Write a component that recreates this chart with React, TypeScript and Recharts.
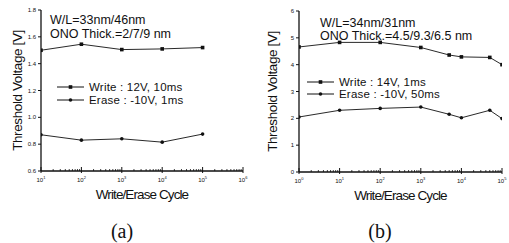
import { LineChart, Line, XAxis, YAxis, Legend } from "recharts";

// (a) W/L=33nm/46nm
const cyclesA = [10, 100, 1000, 10000, 100000];
const writeA = [1.5, 1.545, 1.505, 1.51, 1.52];
const eraseA = [0.87, 0.83, 0.84, 0.815, 0.875];
const yTicksA = [0.6, 0.8, 1.0, 1.2, 1.4, 1.6, 1.8];
const xMajorA = [10, 100, 1000, 10000, 100000, 1000000];

// (b) W/L=34nm/31nm
const cyclesB = [1, 10, 100, 1000, 5000, 10000, 50000, 100000];
const writeB = [4.66, 4.83, 4.83, 4.64, 4.36, 4.29, 4.27, 4.0];
const eraseB = [2.05, 2.3, 2.37, 2.42, 2.15, 2.02, 2.3, 1.99];
const yTicksB = [0, 1, 2, 3, 4, 5, 6];
const xMajorB = [1, 10, 100, 1000, 10000, 100000];

const minorSteps = [2, 3, 4, 5, 6, 7, 8, 9];

const INK = "#111";
const SANS = "'Liberation Sans', Arial, sans-serif";

function withMinor(major: number[]) {
  const out: number[] = [];
  major.forEach((m, i) => {
    out.push(m);
    if (i < major.length - 1) minorSteps.forEach((s) => out.push(m * s));
  });
  return out;
}

const LogTick = (props: any) => {
  const { x, y, payload } = props;
  const v = payload.value;
  const lg = Math.log10(v);
  const exp = Math.round(lg);
  if (Math.abs(lg - exp) > 1e-6) {
    return <line x1={x} x2={x} y1={y} y2={y - 2} stroke={INK} strokeWidth={0.8} />;
  }
  return (
    <g>
      <line x1={x} x2={x} y1={y + 2} y2={y - 4} stroke={INK} strokeWidth={1} />
      <text x={x} y={y + 11} textAnchor="middle" fontSize={6} fill={INK} fontFamily={SANS}>
        10
        <tspan dy={-3} fontSize={4}>
          {exp}
        </tspan>
      </text>
    </g>
  );
};

const makeYTick = (digits: number) => (props: any) => {
  const { x, y, payload } = props;
  return (
    <g>
      <line x1={x} x2={x - 3} y1={y} y2={y} stroke={INK} strokeWidth={1} />
      <text x={x - 5} y={y + 2} textAnchor="end" fontSize={6} fill={INK} fontFamily={SANS}>
        {payload.value.toFixed(digits)}
      </text>
    </g>
  );
};

const SquareDot = (p: any) => (
  <rect key={`s${p.index}`} x={p.cx - 1.8} y={p.cy - 1.8} width={3.6} height={3.6} fill={INK} />
);

const legendContent = (labels: string[], rowH: number) => () => (
  <div style={{ fontFamily: SANS, fontSize: 11.5, color: INK }}>
    {labels.map((lab, i) => (
      <div
        key={lab}
        style={{ display: "flex", alignItems: "center", height: rowH, lineHeight: `${rowH}px` }}
      >
        <svg width={27} height={8} style={{ flex: "none" }}>
          <line x1={0} x2={27} y1={4} y2={4} stroke={INK} strokeWidth={1} />
          {i === 0 ? (
            <rect x={11.7} y={2.2} width={3.6} height={3.6} fill={INK} />
          ) : (
            <circle cx={13.5} cy={4} r={1.8} fill={INK} />
          )}
        </svg>
        <span style={{ marginLeft: 5, whiteSpace: "nowrap", letterSpacing: 0.2 }}>{lab}</span>
      </div>
    ))}
  </div>
);

type PanelProps = {
  left: number;
  width: number;
  yWidth: number;
  margin: { top: number; right: number; bottom: number };
  cycles: number[];
  write: number[];
  erase: number[];
  yTicks: number[];
  xMajor: number[];
  digits: number;
  legendLabels: string[];
  legendPos: { left: number; top: number; rowH: number };
  notes: string[];
  notePos: { left: number; top: number; lineH: number };
  tag: string;
  tagX: number;
};

function Panel(p: PanelProps) {
  const data = p.cycles.map((c, i) => ({ c, write: p.write[i], erase: p.erase[i] }));
  const xDomain = [p.xMajor[0], p.xMajor[p.xMajor.length - 1]];
  const yDomain = [p.yTicks[0], p.yTicks[p.yTicks.length - 1]];
  return (
    <div style={{ position: "absolute", left: p.left, top: 0, width: p.width, height: 243 }}>
      <LineChart
        width={p.width}
        height={243}
        data={data}
        margin={{ top: p.margin.top, right: p.margin.right, bottom: p.margin.bottom, left: 0 }}
      >
        <XAxis
          dataKey="c"
          type="number"
          scale="log"
          domain={xDomain}
          ticks={withMinor(p.xMajor)}
          interval={0}
          allowDataOverflow
          tick={<LogTick />}
          tickLine={false}
          tickSize={0}
          tickMargin={0}
          height={30}
          stroke={INK}
          strokeWidth={1.3}
          label={{
            value: "Write/Erase Cycle",
            position: "insideBottom",
            offset: 2,
            fill: INK,
            fontSize: 13.5,
            fontFamily: SANS,
            letterSpacing: -0.9,
          }}
        />
        <XAxis
          xAxisId="top"
          orientation="top"
          dataKey="c"
          type="number"
          scale="log"
          domain={xDomain}
          allowDataOverflow
          tick={false}
          tickLine={false}
          height={0}
          stroke={INK}
          strokeWidth={1.2}
        />
        <YAxis
          type="number"
          domain={yDomain}
          ticks={p.yTicks}
          interval={0}
          width={p.yWidth}
          tick={makeYTick(p.digits)}
          tickLine={false}
          tickSize={0}
          tickMargin={0}
          stroke={INK}
          strokeWidth={1.3}
          label={{
            value: "Threshold Voltage [V]",
            angle: -90,
            position: "center",
            dx: 17 - p.yWidth / 2,
            fill: INK,
            fontSize: 13.5,
            fontFamily: SANS,
            letterSpacing: -0.4,
          }}
        />
        <YAxis
          yAxisId="right"
          orientation="right"
          type="number"
          domain={yDomain}
          tick={false}
          tickLine={false}
          width={0}
          stroke={INK}
          strokeWidth={1.2}
        />
        <Legend
          layout="vertical"
          align="center"
          verticalAlign="middle"
          content={legendContent(p.legendLabels, p.legendPos.rowH)}
          wrapperStyle={{ left: p.legendPos.left, top: p.legendPos.top, width: "auto" }}
        />
        <Line
          dataKey="write"
          stroke={INK}
          strokeWidth={0.9}
          dot={SquareDot}
          isAnimationActive={false}
        />
        <Line
          dataKey="erase"
          stroke={INK}
          strokeWidth={0.9}
          dot={{ r: 1.8, fill: INK, stroke: INK, strokeWidth: 0 }}
          isAnimationActive={false}
        />
      </LineChart>
      <div
        style={{
          position: "absolute",
          left: p.notePos.left,
          top: p.notePos.top,
          fontFamily: SANS,
          fontSize: 12.5,
          lineHeight: `${p.notePos.lineH}px`,
          color: INK,
          whiteSpace: "nowrap",
        }}
      >
        {p.notes.map((n) => (
          <div key={n}>{n}</div>
        ))}
      </div>
      <div
        style={{
          position: "absolute",
          left: p.tagX - 30,
          width: 60,
          top: 219,
          textAlign: "center",
          fontFamily: "'Liberation Serif', 'DejaVu Serif', serif",
          fontSize: 20,
          lineHeight: "24px",
          color: INK,
        }}
      >
        {p.tag}
      </div>
    </div>
  );
}

export default function App() {
  return (
    <div style={{ position: "absolute", left: 0, top: 0, width: 509, height: 243, background: "#fff" }}>
      <Panel
        left={0}
        width={255}
        yWidth={41}
        margin={{ top: 10, right: 12, bottom: 42 }}
        cycles={cyclesA}
        write={writeA}
        erase={eraseA}
        yTicks={yTicksA}
        xMajor={xMajorA}
        digits={1}
        legendLabels={["Write : 12V, 10ms", "Erase : -10V, 1ms"]}
        legendPos={{ left: 57, top: 81, rowH: 12.5 }}
        notes={["W/L=33nm/46nm", "ONO Thick.=2/7/9 nm"]}
        notePos={{ left: 50, top: 13, lineH: 14 }}
        tag="(a)"
        tagX={122}
      />
      <Panel
        left={255}
        width={254}
        yWidth={44}
        margin={{ top: 11, right: 7, bottom: 41 }}
        cycles={cyclesB}
        write={writeB}
        erase={eraseB}
        yTicks={yTicksB}
        xMajor={xMajorB}
        digits={0}
        legendLabels={["Write : 14V, 1ms", "Erase : -10V, 50ms"]}
        legendPos={{ left: 52, top: 75.5, rowH: 12.5 }}
        notes={["W/L=34nm/31nm", "ONO Thick.=4.5/9.3/6.5 nm"]}
        notePos={{ left: 65, top: 17, lineH: 12.5 }}
        tag="(b)"
        tagX={125}
      />
    </div>
  );
}
